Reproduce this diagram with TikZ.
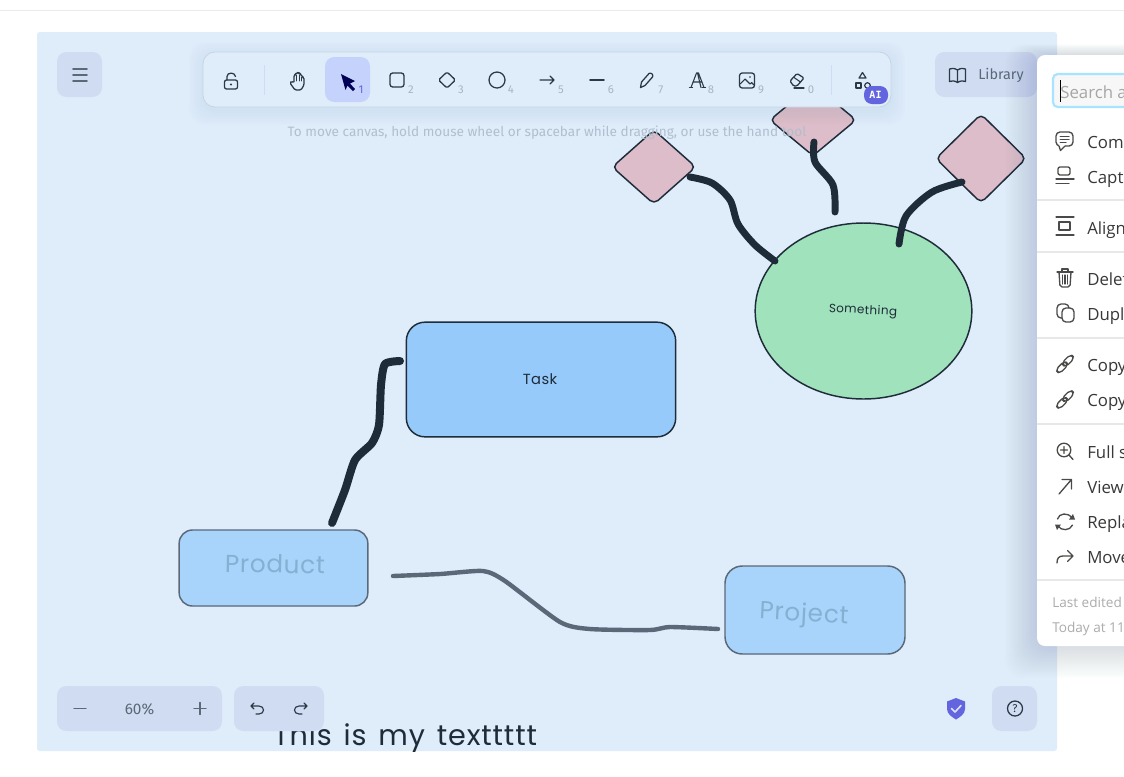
\documentclass[tikz,border=0pt]{standalone}
\usepackage{fontspec}
\usetikzlibrary{shapes.geometric}
\setmainfont{Open Sans}
\newfontfamily\uifont{Fira Sans}
\newfontfamily\handfont[LetterSpace=3,WordSpace=1.4]{Poppins}
\newfontfamily\monoui{DejaVu Sans Mono}
\newcommand{\fz}[1]{\fontsize{#1}{#1}\selectfont}
\definecolor{canvasbg}{HTML}{DFECFA}
\definecolor{panelbg}{HTML}{D0DCF2}
\definecolor{selbg}{HTML}{C5D2FB}
\definecolor{ink}{HTML}{1E2B38}
\definecolor{fade}{HTML}{5A6878}
\definecolor{icon}{HTML}{2C3846}
\definecolor{hint}{HTML}{B1BECD}
\definecolor{digit}{HTML}{A9B4C2}
\definecolor{pinkd}{HTML}{DDBDC9}
\definecolor{greene}{HTML}{9FE2BC}
\definecolor{bluet}{HTML}{96CAFA}
\definecolor{bluep}{HTML}{A8D4FB}
\definecolor{fadetext}{HTML}{85B0D2}
\definecolor{menuic}{HTML}{4A4A48}
\definecolor{menutx}{HTML}{38383A}
\definecolor{sepc}{HTML}{E8E8E8}
\definecolor{violet}{HTML}{6265DE}
\definecolor{shadowc}{HTML}{4A6A96}
\tikzset{
  x=0.75pt,y=-0.75pt,
  shapeedge/.style={draw=ink,line width=1.1pt},
  diam/.style={diamond,shapeedge,fill=pinkd,rounded corners=4pt,inner sep=0pt},
  conn/.style={draw=ink,line width=5.2pt,line cap=round,line join=round},
  connfade/.style={draw=fade,line width=3.3pt,line cap=round,line join=round},
  panel/.style={fill=panelbg,rounded corners=7pt,draw=none},
  ic/.style={draw=icon,line width=0.95pt,line cap=round,line join=round},
  mic/.style={draw=menuic,line width=1pt,line cap=round,line join=round},
  dig/.style={text=digit,font=\uifont\fz{8.5},inner sep=0pt},
  menutext/.style={text=menutx,font=\fz{12.6},anchor=base west,inner sep=0pt},
  foot/.style={text=gray!65,font=\fz{10.2},anchor=base west,inner sep=0pt},
  hand/.style={font=\handfont\fz{#1},inner sep=0pt},
}
\begin{document}
\begin{tikzpicture}
\useasboundingbox (0,0) rectangle (1124,776);
\fill[white] (0,0) rectangle (1124,776);
\draw[black!8,line width=0.6pt] (0,10.5) -- (1124,10.5);
\fill[canvasbg,rounded corners=2pt] (37,32) rectangle (1057,751);

% diagram
\begin{scope}
\clip (37,32) rectangle (1057,751);
\node[diam,minimum width=63pt,minimum height=56pt] (dleft) at (654,167) {};
\node[diam,minimum width=65pt,minimum height=54pt] (dtop) at (813,120) {};
\node[diam,minimum width=68pt,minimum height=67pt] (dright) at (981,158.5) {};
\node[ellipse,shapeedge,fill=greene,minimum width=162.5pt,minimum height=132pt,inner sep=0pt] (blob) at (863.5,311) {};
\node[hand=9,text=ink,rotate=-3] (blobt) at (863,311) {Something};
\node[rectangle,shapeedge,fill=bluet,rounded corners=14pt,minimum width=202pt,minimum height=86pt,inner sep=0pt] (task) at (541,379.5) {};
\node[hand=11,text=ink] (taskt) at (540,379) {Task};
\node[rectangle,draw=fade,line width=1.1pt,fill=bluep,rounded corners=10pt,minimum width=141.5pt,minimum height=57pt,inner sep=0pt] (prod) at (273.5,568) {};
\node[hand=18.5,text=fadetext,rotate=-1] (prodt) at (275,564) {Product};
\node[rectangle,draw=fade,line width=1.1pt,fill=bluep,rounded corners=13pt,minimum width=135pt,minimum height=66pt,inner sep=0pt] (proj) at (815,610) {};
\node[hand=18.5,text=fadetext,rotate=-3] (projt) at (804,615) {Project};
\node[hand=21.5,text=ink,anchor=west] (mytext) at (273,738) {This is my texttttt};

\coordinate (a1) at (690,177); \coordinate (a2) at (775,261);
\coordinate (b1) at (814,142); \coordinate (b2) at (835,212);
\coordinate (c1) at (962,182); \coordinate (c2) at (899,244);
\coordinate (d1) at (400,361); \coordinate (d2) at (332,523);
\coordinate (e1) at (393,576); \coordinate (e2) at (718,629);
\draw[conn] plot[smooth,tension=0.5] coordinates {(a1) (712,183) (730,200) (738,224) (755,245) (a2)};
\draw[conn] plot[smooth,tension=0.5] coordinates {(b1) (815,162) (833,185) (b2)};
\draw[conn] plot[smooth,tension=0.5] coordinates {(c1) (932,192) (906,216) (c2)};
\draw[conn,line width=6pt] plot[smooth,tension=0.4] coordinates {(d1) (385,364) (381,385) (379,425) (372,443) (355,460) (345,490) (d2)};
\draw[connfade] plot[smooth,tension=0.4] coordinates {(e1) (440,574) (483,571) (505,581) (560,622) (590,629) (650,630) (670,627) (e2)};
\end{scope}

% toolbar shadow + toolbar
\foreach \s in {14,12,...,2} \fill[shadowc,opacity=0.006,rounded corners=12pt] (203-\s,52-\s+4) rectangle (891+\s,107+\s+4);
\filldraw[fill=canvasbg,draw=black!10!canvasbg,line width=0.6pt,rounded corners=9pt] (203,52) rectangle (891,107);
\fill[panelbg] (264,65) rectangle (265,95);
\fill[panelbg] (831,65) rectangle (832,95);
\fill[selbg,rounded corners=7pt] (325,57) rectangle (370,102);
\node[text=hint,font=\uifont\fz{10.2},inner sep=0pt] (hinttext) at (547,133) {To move canvas, hold mouse wheel or spacebar while dragging, or use the hand tool};

% lock
\draw[ic,rounded corners=1.5pt] (224.5,80) rectangle (237.5,89);
\draw[ic] (227,80) -- (227,76.5) .. controls (227,72) and (235,72) .. (235.5,76.5);
\fill[icon] (231,84.5) circle (1.1);
% hand
\draw[ic,rounded corners=1pt] (295,90) -- (290,83) -- (291.5,81) -- (294,83) -- (294,75) -- (296,74.5) -- (296.5,72.5) -- (299,72.5) -- (299.5,74) -- (301.5,74.5) -- (302,77) -- (304,77.5) -- (304,85) -- (301,90) -- cycle;
\draw[ic,line width=0.7pt] (296.5,75) -- (296.5,81) (299,75) -- (299,81) (301.5,77) -- (301.5,81);
% cursor
\fill[black!25!blue!45!black] (341,74) -- (355,81) -- (350,83.5) -- (355,89) -- (353,91) -- (347.5,85.5) -- (345.5,90) -- cycle;
\node[text=black!25!blue!60!white,font=\uifont\fz{8.5},inner sep=0pt] (n1) at (361,90) {1};
% square
\draw[ic,rounded corners=2pt] (390,73) rectangle (404,87);
\node[dig] (n2) at (411,90) {2};
% diamond
\draw[ic,rounded corners=1.2pt] (447,72) -- (455.5,80) -- (447,88) -- (438.5,80) -- cycle;
\node[dig] (n3) at (461,90) {3};
% circle
\draw[ic] (497,80) circle (8);
\node[dig] (n4) at (511,90) {4};
% arrow
\draw[ic] (540,80) -- (554,80) (550,76) -- (554,80) -- (550,84);
\node[dig] (n5) at (561,90) {5};
% line
\draw[ic,line width=1.4pt] (590,80) -- (604,80);
\node[dig] (n6) at (611,90) {6};
% pencil
\draw[ic] (640.5,87.5) -- (641.5,82) -- (649,73.5) .. controls (651,72) and (654,75) .. (652.5,77) -- (645,85.5) -- cycle;
\node[dig] (n7) at (661,90) {7};
% A
\draw[ic,line width=0.8pt] (691,87.5) -- (696.5,73) -- (698.5,73) -- (704,87.5) (693,82) -- (702,82) (697.5,73) -- (701,87.5);
\draw[ic,line width=0.8pt] (689.5,87.5) -- (692.5,87.5) (702,87.5) -- (705.5,87.5);
\node[dig] (n8) at (711,90) {8};
% image
\draw[ic,rounded corners=2pt] (739.5,73) rectangle (754.5,88);
\draw[ic,line width=0.8pt] (740,84) -- (745,79) -- (750,84) -- (751.5,82.5) -- (754,85);
\fill[icon] (750,77) circle (0.9);
\node[dig] (n9) at (761,90) {9};
% eraser
\draw[ic,rounded corners=1pt] (790,81) -- (797,73.5) -- (804,78) -- (797,86) -- (793.5,86) -- cycle;
\draw[ic,line width=0.8pt] (794,77.5) -- (800.5,82);
\draw[ic] (794,88) -- (804,88);
\node[dig] (n0) at (811,90) {0};
% shapes
\draw[ic,line width=0.9pt] (862.5,72.5) -- (866,78) -- (859,78) -- cycle;
\draw[ic,line width=0.9pt] (856,83) rectangle (861,88);
\draw[ic,line width=0.9pt] (867.5,85.5) circle (2.8);
\fill[violet,rounded corners=6pt] (864,86) rectangle (888,104);
\node[text=white,font=\monoui\bfseries\fz{7.5},inner sep=0pt] (ai) at (875.5,95) {AI};

% menu button
\fill[panel] (57,52) rectangle (102,97);
\draw[draw=fade,line width=1.2pt,line cap=round] (73,69) -- (87,69) (73,75) -- (87,75) (73,81) -- (87,81);

% library
\fill[panel] (935,52) rectangle (1037,97);
\draw[ic] (957.5,70) .. controls (954,68) and (952,68) .. (949.5,69) -- (949.5,81.5) .. controls (952,80.5) and (954,80.5) .. (957.5,82.5) .. controls (961,80.5) and (963,80.5) .. (965.5,81.5) -- (965.5,69) .. controls (963,68) and (961,68) .. (957.5,70) -- (957.5,82.5);
\node[text=fade,font=\uifont\fz{10.8},anchor=west,inner sep=0pt] (lib) at (978,75.5) {Library};

% bottom panels
\fill[panel] (57,686) rectangle (222,731);
\draw[draw=fade,line width=1.1pt,line cap=round] (74,708.5) -- (86,708.5) (194,708.5) -- (206,708.5) (200,702.5) -- (200,714.5);
\node[text=fade,font=\uifont\fz{11.5},inner sep=0pt] (zoomt) at (139.5,709) {60\%};
\fill[panel] (234,686) rectangle (324,731);
\draw[ic,line width=0.85pt] (254,703) -- (251,706) -- (254,709) (251,706) -- (259,706) .. controls (265,706) and (265,714) .. (259,714) -- (256,714);
\draw[ic,line width=0.85pt] (304,703) -- (307,706) -- (304,709) (307,706) -- (299,706) .. controls (293,706) and (293,714) .. (299,714) -- (302,714);
\fill[panel] (992,686) rectangle (1037,731);
\draw[ic] (1015,708.5) circle (7.5);
\node[text=icon,font=\uifont\fz{8.5},inner sep=0pt] (helpq) at (1015,708.5) {?};
\fill[violet] (956,698) -- (965,701.5) -- (965,709) .. controls (965,714) and (960,717) .. (956,719.5) .. controls (952,717) and (947,714) .. (947,709) -- (947,701.5) -- cycle;
\draw[white!80!violet,line width=1.2pt,line cap=round,line join=round] (951.5,708.5) -- (955,712) -- (961,705.5);

% context menu
\foreach \s in {32,30,...,2} \fill[shadowc,opacity=0.012,rounded corners=14pt] (1037-\s,55-\s/3) rectangle (1150,646+\s);
\fill[white,rounded corners=6pt] (1037,55) rectangle (1150,646);
\filldraw[fill=black!3,draw=blue!30!cyan!35!white,line width=1.6pt,rounded corners=3.5pt] (1053,74) rectangle (1150,107);
\node[text=gray!70,font=\fz{12.6},anchor=base west,inner sep=0pt] (search) at (1060,98) {Search a};
\draw[black,line width=0.6pt] (1060.5,80) -- (1060.5,102);
\foreach \y in {200,252,338,424,580} \draw[sepc,line width=0.8pt] (1037,\y) -- (1124,\y);
\node[menutext] (m1) at (1087,148) {Com};
\node[menutext] (m2) at (1087,183) {Capt};
\node[menutext] (m3) at (1087,234) {Align};
\node[menutext] (m4) at (1087,285) {Delet};
\node[menutext] (m5) at (1087,320) {Dupl};
\node[menutext] (m6) at (1087,371) {Copy};
\node[menutext] (m7) at (1087,406) {Copy};
\node[menutext] (m8) at (1087,458) {Full s};
\node[menutext] (m9) at (1087,493) {View};
\node[menutext] (m10) at (1087,528) {Repla};
\node[menutext] (m11) at (1087,563) {Move};
\node[foot] (f1) at (1052,607) {Last edited};
\node[foot] (f2) at (1052,632) {Today at 11};
% comment
\draw[mic,rounded corners=3pt] (1056,132) rectangle (1073,146);
\fill[white] (1059,145) rectangle (1065,147.5);
\draw[mic] (1059,146) -- (1060.5,150.5) -- (1065,146);
\draw[mic,line width=0.75pt] (1060,136) -- (1069,136) (1060,139) -- (1069,139) (1060,142) -- (1066,142);
% caption
\draw[mic,rounded corners=1.5pt] (1058,167) rectangle (1070,175);
\draw[mic] (1056,179) -- (1074,179) (1056,183.5) -- (1069,183.5);
% align
\draw[mic,line width=0.8pt] (1056,217) -- (1074,217) (1056,235) -- (1074,235);
\draw[mic,line width=0.8pt] (1059,222) rectangle (1070,230);
% trash
\draw[mic] (1057,272) -- (1073,272) (1062,272) -- (1062,269) -- (1068,269) -- (1068,272);
\draw[mic,rounded corners=1.5pt] (1059,272) -- (1060,287) -- (1070,287) -- (1071,272);
\draw[mic,line width=0.8pt] (1062.5,275) -- (1062.5,284) (1065,275) -- (1065,284) (1067.5,275) -- (1067.5,284);
% duplicate
\draw[mic,rounded corners=3pt] (1062,308) rectangle (1074,322);
\draw[mic,rounded corners=3pt] (1062,318) -- (1057,318) -- (1057,304) -- (1069,304) -- (1069,308);
% links
\foreach \yy in {364,399.5} {
  \draw[mic,rotate around={45:(1065,\yy)},rounded corners=3pt] (1063,\yy-3) rectangle (1076,\yy+2.6);
  \draw[mic,rotate around={45:(1065,\yy)},rounded corners=3pt] (1054,\yy-2.6) rectangle (1067,\yy+3);
}
% full screen
\draw[mic] (1064,450) circle (6.8) (1069,455) -- (1073,459.5) (1064,446.5) -- (1064,453.5) (1060.5,450) -- (1067.5,450);
% view
\draw[mic] (1059,494) -- (1071,480) (1062,479.5) -- (1071.5,479.5) -- (1071.5,489);
% replace
\draw[mic] (1057.5,519) .. controls (1059,513) and (1068,512) .. (1072,518);
\draw[mic] (1072.5,525) .. controls (1070,531) and (1061,531) .. (1058,526);
\fill[menuic] (1069,519.5) -- (1075,519.5) -- (1073,514) -- cycle;
\fill[menuic] (1055,524.5) -- (1061,524.5) -- (1057,530) -- cycle;
% move
\draw[mic] (1057,563) .. controls (1057,558) and (1059,556) .. (1063,556) -- (1073,556) (1067.5,550.5) -- (1073,556) -- (1067.5,561.5);
\end{tikzpicture}
\end{document}
